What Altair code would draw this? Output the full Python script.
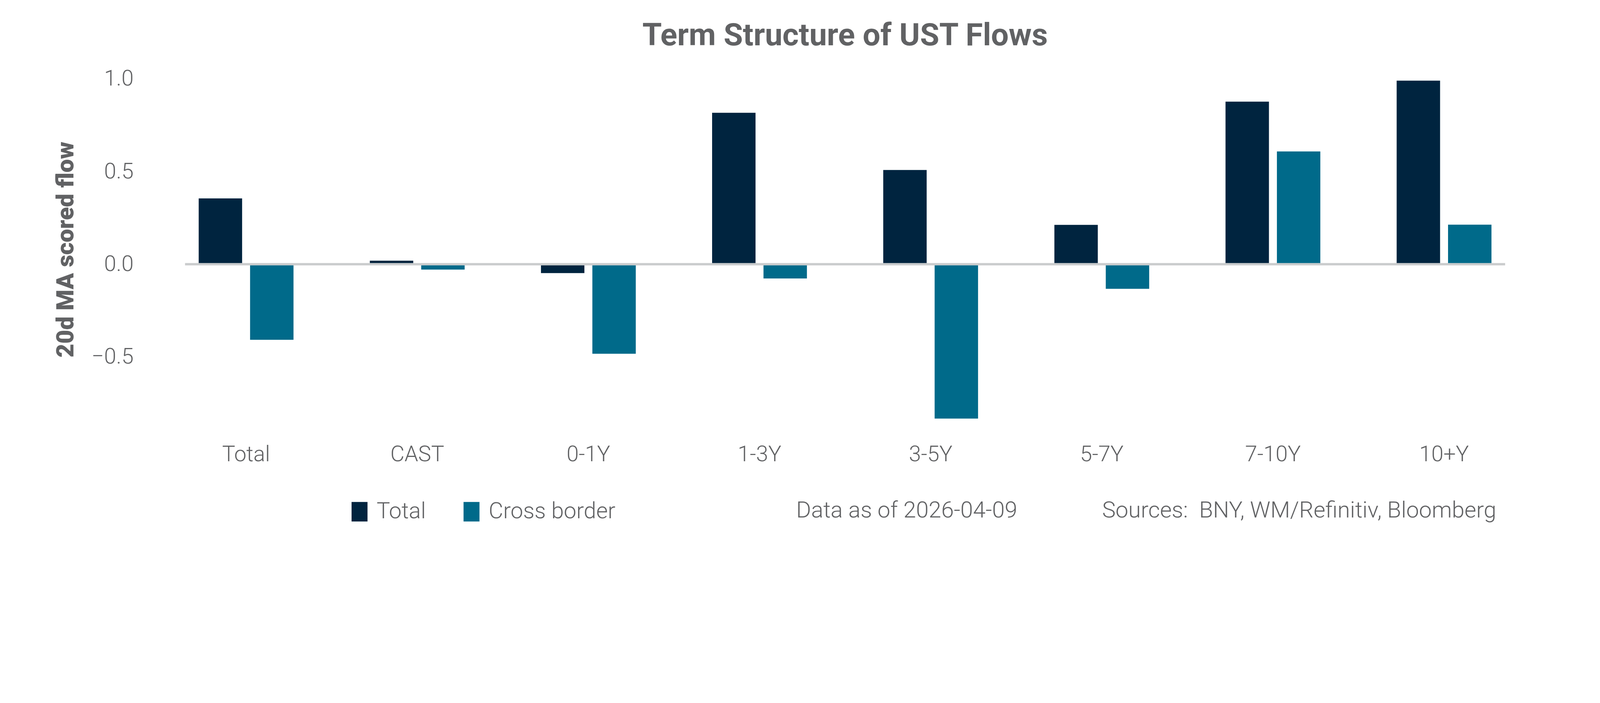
import altair as alt
import pandas as pd

categories = ["Total", "CAST", "0-1Y", "1-3Y", "3-5Y", "5-7Y", "7-10Y", "10+Y"]
series_names = ["Total", "Cross border"]
total_values = [0.355, 0.019, -0.048, 0.817, 0.508, 0.212, 0.877, 0.990]
cross_values = [-0.408, -0.029, -0.483, -0.077, -0.833, -0.133, 0.608, 0.213]
series_colors = ["#00243F", "#006A8A"]
y_ticks = [-0.5, 0.0, 0.5, 1.0]
title_text = ["Term Structure of UST Flows"]
y_title = "20d MA scored flow"
note_date = ["Data as of 2026-04-09"]
note_sources = ["Sources:\u00a0 BNY, WM/Refinitiv, Bloomberg"]

rows = []
for c, t, x in zip(categories, total_values, cross_values):
    rows.append({"Category": c, "Series": series_names[0], "Value": t})
    rows.append({"Category": c, "Series": series_names[1], "Value": x})
df = pd.DataFrame(rows)

# layout designed in screenshot pixels, converted to CSS pixels
S = 1 / 1.323
W = 4637 * S
H = 1193 * S
PAD_L = 543.7 * S - 8
PAD_T = 267 * S - 8
PAD_R = 10
PAD_B = 1338 - PAD_T - H
GRAY = "#616264"
FONT = "Roboto"
LAB = 74 * S

bars = alt.Chart(df).mark_bar().encode(
    x=alt.X("Category:N", sort=categories,
            scale=alt.Scale(paddingInner=0.446, paddingOuter=0.223),
            axis=alt.Axis(title=None, labelAngle=0, domain=False, ticks=False,
                          labelFont=FONT, labelFontWeight=300, labelFontSize=LAB,
                          labelColor=GRAY, labelPadding=44 * S, labelLimit=1000)),
    xOffset=alt.XOffset("Series:N", sort=series_names,
                        scale=alt.Scale(paddingInner=0.155, paddingOuter=0)),
    y=alt.Y("Value:Q",
            scale=alt.Scale(domain=[-0.9, 1.0], nice=False, zero=False),
            axis=alt.Axis(title=y_title, values=y_ticks, format=".1f",
                          domain=False, ticks=False, grid=False,
                          labelFont=FONT, labelFontWeight=300, labelFontSize=LAB,
                          labelColor=GRAY, labelPadding=92 * S,
                          titleFont=FONT, titleFontWeight=900, titleFontSize=81 * S,
                          titleColor=GRAY, titleAngle=270, titleAlign="center",
                          titleBaseline="alphabetic", titleX=-296 * S, titleY=578 * S)),
    color=alt.Color("Series:N", sort=series_names,
                    scale=alt.Scale(domain=series_names, range=series_colors),
                    legend=alt.Legend(title=None, orient="none", direction="horizontal",
                                      legendX=636 * S, legendY=1428 * S, padding=0,
                                      symbolType="M-0.818,-1L0.818,-1L0.818,1L-0.818,1Z",
                                      symbolSize=(66 * S) ** 2, symbolStrokeWidth=0,
                                      labelFont=FONT, labelFontWeight=300,
                                      labelFontSize=76 * S, labelColor=GRAY,
                                      labelOffset=20 * S, columnPadding=116 * S,
                                      labelLimit=1000)),
)

zero_df = pd.DataFrame({"zero": [0.0]})
zero_rule = alt.Chart(zero_df).mark_rule(color="#CACCCD", strokeWidth=8 * S).encode(
    y="zero:Q",
    x=alt.value(83 * S),
    x2=alt.value(W - 83 * S),
)

title_mark = alt.Chart(pd.DataFrame({"t": title_text})).mark_text(
    align="center", baseline="alphabetic", font=FONT, fontWeight="bold",
    fontSize=106 * S, color=GRAY
).encode(text="t:N", x=alt.value(W / 2), y=alt.value(-113 * S))

date_text = alt.Chart(pd.DataFrame({"t": note_date})).mark_text(
    align="left", baseline="middle", font=FONT, fontWeight=300, fontSize=77 * S,
    color=GRAY
).encode(text="t:N", x=alt.value(2153 * S), y=alt.value(1464 * S))

src_text = alt.Chart(pd.DataFrame({"t": note_sources})).mark_text(
    align="left", baseline="middle", font=FONT, fontWeight=300, fontSize=77 * S,
    color=GRAY
).encode(text="t:N", x=alt.value(3189 * S), y=alt.value(1464 * S))

chart = alt.layer(bars, zero_rule, title_mark, date_text, src_text).properties(
    width=W,
    height=H,
    autosize=alt.AutoSizeParams(type="none"),
    padding={"left": PAD_L, "top": PAD_T, "right": PAD_R, "bottom": PAD_B},
    background="white",
).configure_view(stroke="transparent", strokeWidth=0)

chart.save("out.html", embed_options={"renderer": "svg", "actions": False})
